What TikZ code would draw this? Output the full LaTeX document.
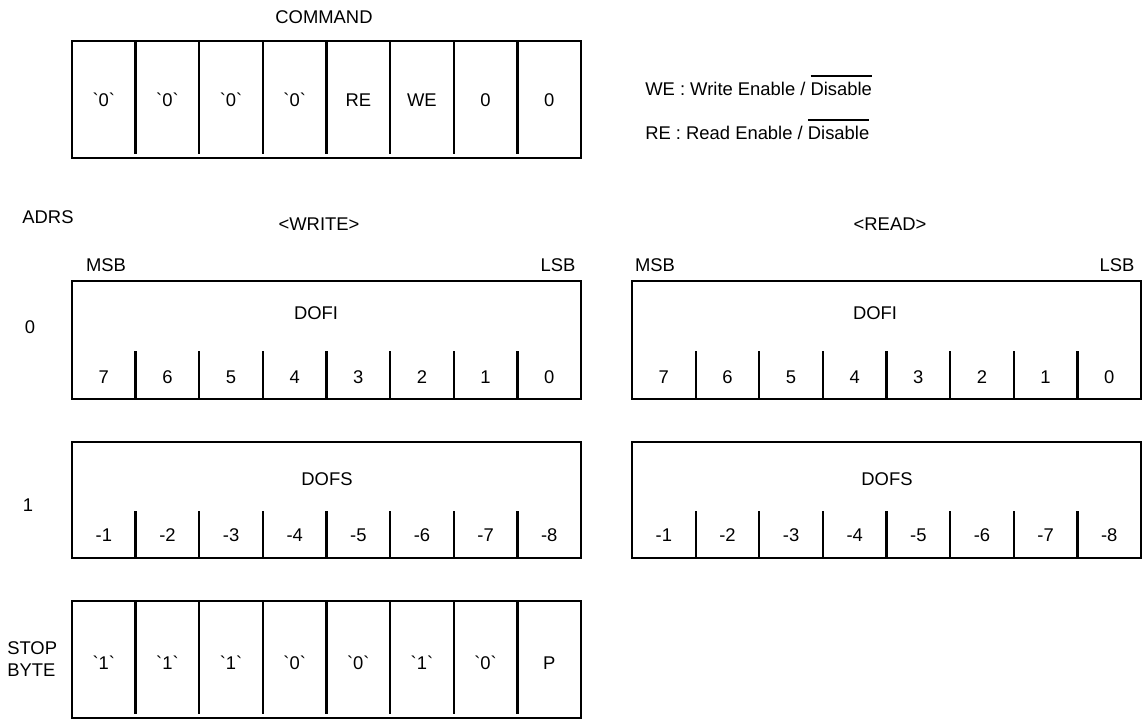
\documentclass[tikz,border=0pt]{standalone}
\usepackage{fontspec}
\setmainfont{Liberation Sans}
\usepackage{tikz}

\newcommand{\lit}[1]{\textasciigrave#1\textasciigrave}
\newcommand{\notbar}[1]{\leavevmode\vbox{\hrule height 1.2pt\kern 4.6pt\hbox{#1}}}

\tikzset{
  frame/.style={line width=1.7pt},
  lbl/.style={inner sep=0pt, font=\fontsize{13.8}{16.5}\selectfont},
}

\begin{document}
\begin{tikzpicture}[x=0.75pt,y=-0.75pt]
  \useasboundingbox (0,0) rectangle (1144,720);

  % command byte
  \node[lbl] (cmd) at (324,17) {COMMAND};
  \draw[frame] (72,41) rectangle (581,158);
  \foreach \i in {1,...,7}
    \draw[frame] ({72+63.625*\i},41) -- ({72+63.625*\i},154);
  \foreach \t [count=\i] in {\lit{0},\lit{0},\lit{0},\lit{0},RE,WE,0,0}
    \node[lbl] (cmd\i) at ({72+63.625*(\i-0.5)},100) {\t};

  \node[lbl, anchor=base west] (we) at (645,96) {WE : Write Enable / \notbar{Disable}};
  \node[lbl, anchor=base west] (re) at (645,140) {RE : Read Enable / \notbar{Disable}};

  % address column
  \node[lbl] (adrs) at (48,217) {ADRS};
  \node[lbl] (adr0) at (30,327) {0};
  \node[lbl] (adr1) at (28,505) {1};
  \node[lbl, anchor=west, align=left] (stop) at (7,659) {STOP\\BYTE};

  % write and read registers
  \node[lbl] (wr) at (319,224) {<WRITE>};
  \node[lbl] (rd) at (890,224) {<READ>};
  \node[lbl] (wmsb) at (106,265) {MSB};
  \node[lbl] (wlsb) at (558,265) {LSB};
  \node[lbl] (rmsb) at (655,265) {MSB};
  \node[lbl] (rlsb) at (1117,265) {LSB};
  \node[lbl] (wdofi) at (316,313) {DOFI};
  \node[lbl] (rdofi) at (875,313) {DOFI};
  \node[lbl] (wdofs) at (327,479) {DOFS};
  \node[lbl] (rdofs) at (887,479) {DOFS};

  \foreach \s/\x in {w/72, r/632} {
    \draw[frame] (\x,281) rectangle ({\x+509},399);
    \draw[frame] (\x,442) rectangle ({\x+509},558);
    \foreach \i in {1,...,7} {
      \draw[frame] ({\x+63.625*\i},351) -- ({\x+63.625*\i},399);
      \draw[frame] ({\x+63.625*\i},511) -- ({\x+63.625*\i},558);
    }
    \foreach \i in {1,...,8} {
      \pgfmathtruncatemacro{\b}{8-\i}
      \node[lbl] (\s fi\i) at ({\x+63.625*(\i-0.5)},377) {\b};
      \node[lbl] (\s fs\i) at ({\x+63.625*(\i-0.5)},535) {-\i};
    }
  }

  % stop byte
  \draw[frame] (72,601) rectangle (581,718);
  \foreach \i in {1,...,7}
    \draw[frame] ({72+63.625*\i},601) -- ({72+63.625*\i},714);
  \foreach \t [count=\i] in {\lit{1},\lit{1},\lit{1},\lit{0},\lit{0},\lit{1},\lit{0},P}
    \node[lbl] (sb\i) at ({72+63.625*(\i-0.5)},663) {\t};
\end{tikzpicture}
\end{document}
